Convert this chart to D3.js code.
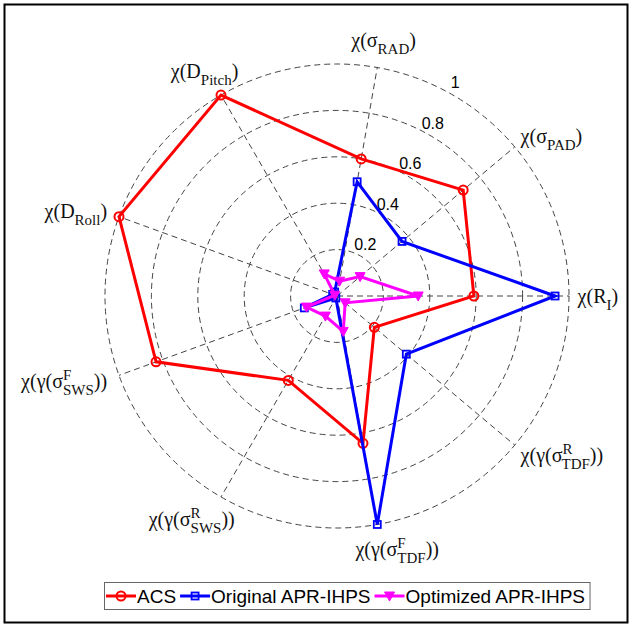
<!DOCTYPE html>
<html>
<head>
<meta charset="utf-8">
<script src="https://cdn.jsdelivr.net/npm/d3@7"></script>
<style>
  html, body { margin: 0; padding: 0; background: #fff; }
  svg { display: block; }
</style>
</head>
<body>
<svg id="chart" width="630" height="625"></svg>
<script>
// ---------- data ----------

// axis labels: [main text, subscript, superscript, closing text]
const axisLabels = [
  ["χ(R", "I", null, ")"],
  ["χ(σ", "PAD", null, ")"],
  ["χ(σ", "RAD", null, ")"],
  ["χ(D", "Pitch", null, ")"],
  ["χ(D", "Roll", null, ")"],
  ["χ(γ(σ", "SWS", "F", "))"],
  ["χ(γ(σ", "SWS", "R", "))"],
  ["χ(γ(σ", "TDF", "F", "))"],
  ["χ(γ(σ", "TDF", "R", "))"],
];

const ringTicks = [0.2, 0.4, 0.6, 0.8, 1];
const ringTickLabels = ["0.2", "0.4", "0.6", "0.8", "1"];

const seriesNames = ["ACS", "Original APR-IHPS", "Optimized APR-IHPS"];
const acsValues = [0.59, 0.71, 0.6, 1.0, 1.0, 0.83, 0.42, 0.645, 0.21];
const originalValues = [0.94, 0.366, 0.5, 0.02, 0.02, 0.15, 0.01, 1.0, 0.39];
const optimizedValues = [0.35, 0.13, 0.065, 0.11, 0.01, 0.14, 0.1, 0.155, 0.046];

// ---------- setup ----------

const svg = d3.select("#chart");
const cx = 337, cy = 296, R = 232;

const rScale = d3.scaleLinear().domain([0, 1]).range([0, R]);
// math angle (ccw from east) for each axis
const angleOf = (i) => (i * 2 * Math.PI) / axisLabels.length;
const px = (i, r) => cx + r * Math.cos(angleOf(i));
const py = (i, r) => cy - r * Math.sin(angleOf(i));

// outer frame
svg.append("rect")
  .attr("x", 4.5).attr("y", 4.5)
  .attr("width", 623).attr("height", 618)
  .attr("fill", "none").attr("stroke", "#000").attr("stroke-width", 2);

const plot = svg.append("g").attr("transform", `translate(${cx},${cy})`);

// ---------- grid ----------

plot.selectAll("circle.ring")
  .data(ringTicks)
  .join("circle")
  .attr("class", "ring")
  .attr("r", (d) => rScale(d))
  .attr("fill", "none")
  .attr("stroke", "#444")
  .attr("stroke-width", 1)
  .attr("stroke-dasharray", "6,4");

plot.selectAll("line.spoke")
  .data(axisLabels)
  .join("line")
  .attr("class", "spoke")
  .attr("x1", 0).attr("y1", 0)
  .attr("x2", (d, i) => px(i, R) - cx)
  .attr("y2", (d, i) => py(i, R) - cy)
  .attr("stroke", "#444")
  .attr("stroke-width", 1)
  .attr("stroke-dasharray", "6,4");

// ring tick labels along ~61 degrees
const tickAngle = (61 * Math.PI) / 180;
plot.selectAll("text.tick")
  .data(ringTicks)
  .join("text")
  .attr("class", "tick")
  .attr("x", (d) => (rScale(d) + 12) * Math.cos(tickAngle))
  .attr("y", (d) => -(rScale(d) + 12) * Math.sin(tickAngle))
  .attr("text-anchor", "middle")
  .attr("dominant-baseline", "central")
  .attr("font-family", "'Liberation Sans', Arial, sans-serif")
  .attr("font-size", 16)
  .text((d, i) => ringTickLabels[i]);

// ---------- axis labels ----------

const mainSize = 20, subSize = 15;
axisLabels.forEach((lab, i) => {
  const [main, sub, sup, close] = lab;
  const g = svg.append("g");
  const t = g.append("text")
    .attr("font-family", "'Liberation Serif', 'Times New Roman', serif")
    .attr("font-size", mainSize)
    .attr("fill", "#111");
  t.append("tspan").text(main);
  let supW = 0;
  if (sup) {
    const s = t.append("tspan").attr("font-size", subSize).attr("dy", -8).text(sup);
    supW = s.node().getComputedTextLength();
    t.append("tspan").attr("font-size", subSize).attr("dx", -supW).attr("dy", 15).text(sub);
    t.append("tspan").attr("dy", -7).text(close);
  } else {
    t.append("tspan").attr("font-size", subSize).attr("dy", 7).text(sub);
    t.append("tspan").attr("dy", -7).text(close);
  }
  const bb = t.node().getBBox();
  const a = angleOf(i);
  const c = Math.cos(a), s = Math.sin(a);
  const baseOff = mainSize * 0.33; // baseline offset for vertical centring of main text
  let x, y;
  if (c > 0.6) {
    x = px(i, 1.05 * R) - 3;
    y = py(i, 1.07 * R) + baseOff;
  } else if (c < -0.6) {
    x = px(i, 1.05 * R) - bb.width;
    y = py(i, 1.07 * R) + baseOff;
  } else {
    const r = s > 0 ? 1.12 * R : 1.11 * R;
    const shift = s > 0 ? 2 * Math.sign(c) : 16 * Math.sign(c);
    x = px(i, r) - bb.width / 2 + shift;
    y = py(i, r) + baseOff;
  }
  g.attr("transform", `translate(${x},${y})`);
});

// ---------- series ----------

const series = [
  { name: seriesNames[0], values: acsValues, color: "#ff0000", marker: "circle" },
  { name: seriesNames[1], values: originalValues, color: "#0000ff", marker: "square" },
  { name: seriesNames[2], values: optimizedValues, color: "#ff00ff", marker: "triangle" },
];

const radialLine = d3.lineRadial()
  .angle((d, i) => Math.PI / 2 - angleOf(i))
  .radius((d) => rScale(d))
  .curve(d3.curveLinearClosed);

function drawMarker(sel, type, color) {
  if (type === "circle") {
    sel.append("circle").attr("r", 4.5)
      .attr("fill", "none").attr("stroke", color).attr("stroke-width", 2);
  } else if (type === "square") {
    sel.append("rect").attr("x", -3.5).attr("y", -3.5).attr("width", 7).attr("height", 7)
      .attr("fill", "none").attr("stroke", color).attr("stroke-width", 1.8);
  } else {
    sel.append("path").attr("d", "M-5,-4L5,-4L0,5Z")
      .attr("fill", color).attr("stroke", color).attr("stroke-width", 1);
  }
}

series.forEach((sr) => {
  const g = plot.append("g");
  g.append("path")
    .datum(sr.values)
    .attr("d", radialLine)
    .attr("fill", "none")
    .attr("stroke", sr.color)
    .attr("stroke-width", 3)
    .attr("stroke-linejoin", "miter");
  g.selectAll("g.mk")
    .data(sr.values)
    .join("g")
    .attr("class", "mk")
    .attr("transform", (d, i) => `translate(${px(i, rScale(d)) - cx},${py(i, rScale(d)) - cy})`)
    .each(function () { drawMarker(d3.select(this), sr.marker, sr.color); });
});

// ---------- legend ----------

const legend = svg.append("g");
const legBox = legend.append("rect")
  .attr("x", 104.5).attr("y", 582.5).attr("height", 27)
  .attr("fill", "#fff").attr("stroke", "#666").attr("stroke-width", 1);

let lx = 106;
const ly = 596;
series.forEach((sr) => {
  legend.append("line")
    .attr("x1", lx).attr("x2", lx + 30)
    .attr("y1", ly).attr("y2", ly)
    .attr("stroke", sr.color).attr("stroke-width", 3);
  const m = legend.append("g").attr("transform", `translate(${lx + 15},${ly})`);
  drawMarker(m, sr.marker, sr.color);
  const t = legend.append("text")
    .attr("x", lx + 31).attr("y", ly + 7)
    .attr("font-family", "'Liberation Sans', Arial, sans-serif")
    .attr("font-size", 19)
    .text(sr.name);
  lx += 31 + t.node().getComputedTextLength() + 4;
});
legBox.attr("width", lx - 104.5 + 1);
</script>
</body>
</html>
